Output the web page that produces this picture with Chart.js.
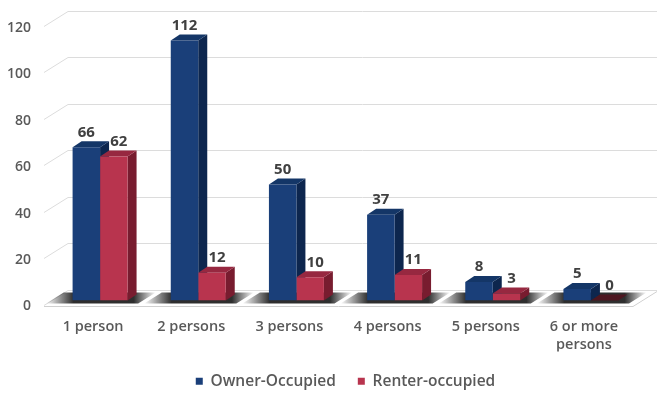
<!DOCTYPE html>
<html>
<head>
<meta charset="utf-8">
<script src="https://cdn.jsdelivr.net/npm/chart.js@4.4.1/dist/chart.umd.min.js"></script>
<style>
  html, body { margin: 0; padding: 0; background: #fff; }
  #wrap { width: 657px; height: 401px; position: relative; }
</style>
</head>
<body>
<div id="wrap"><canvas id="householdChart"></canvas></div>
<script>
// Household size by tenure
const categories = ['1 person', '2 persons', '3 persons', '4 persons', '5 persons', ['6 or more', 'persons']];
const ownerOccupied = [66, 112, 50, 37, 8, 5];
const renterOccupied = [62, 12, 10, 11, 3, 0];
const yTicks = [0, 20, 40, 60, 80, 100, 120];

const BLUE = { front: '#1a3f79', top: '#143667', side: '#0d264e' };
const RED = { front: '#b8344e', top: '#972840', side: '#781c2f' };

// oblique 3D offsets (pixels)
const BAR_DEPTH = { dx: 9, dy: -6 };
const FRONT_SHIFT = { dx: -7, dy: 4 };   // floor front edge relative to bar plane
const WALL_DEPTH = { dx: 24, dy: -15 };  // floor front edge to back wall

const FONT = '"Open Sans", "DejaVu Sans", sans-serif';

function drawFaces(ctx, bar, colors) {
    const { x, y, base, width } = bar.getProps(['x', 'y', 'base', 'width'], true);
    const l = x - width / 2, r = x + width / 2;
    const { dx, dy } = BAR_DEPTH;
    // right side
    ctx.fillStyle = colors.side;
    ctx.beginPath();
    ctx.moveTo(r, y);
    ctx.lineTo(r + dx, y + dy);
    ctx.lineTo(r + dx, base + dy);
    ctx.lineTo(r, base);
    ctx.closePath();
    ctx.fill();
    // top (a flat bar only shows a dark lid)
    ctx.fillStyle = base - y < 1 ? '#4d1620' : colors.top;
    ctx.beginPath();
    ctx.moveTo(l, y);
    ctx.lineTo(l + dx, y + dy);
    ctx.lineTo(r + dx, y + dy);
    ctx.lineTo(r, y);
    ctx.closePath();
    ctx.fill();
}

const walls3d = {
    id: 'walls3d',
    beforeDatasetsDraw(chart) {
        const { ctx, chartArea: a, scales: { x, y } } = chart;
        const fx = a.left + FRONT_SHIFT.dx;
        const fr = a.right + FRONT_SHIFT.dx;
        const f0 = y.getPixelForValue(0) + FRONT_SHIFT.dy;
        const slope = WALL_DEPTH.dx / -WALL_DEPTH.dy;

        ctx.save();
        // gridlines: diagonal on the side wall, horizontal on the back wall
        ctx.strokeStyle = '#dcdcdc';
        ctx.lineWidth = 1;
        yTicks.forEach(v => {
            const fy = Math.round(y.getPixelForValue(v) + FRONT_SHIFT.dy) + 0.5;
            const by = fy + WALL_DEPTH.dy;
            ctx.beginPath();
            ctx.moveTo(fx, fy);
            ctx.lineTo(fx + WALL_DEPTH.dx, by);
            ctx.lineTo(fr + WALL_DEPTH.dx, by);
            ctx.stroke();
        });
        // floor front edge
        ctx.strokeStyle = '#d0d0d0';
        ctx.beginPath();
        ctx.moveTo(fx, Math.round(f0) + 1.5);
        ctx.lineTo(fr, Math.round(f0) + 1.5);
        ctx.lineTo(fr + WALL_DEPTH.dx, Math.round(f0) + 1.5 + WALL_DEPTH.dy);
        ctx.stroke();

        // shadows on the floor under each category
        const catW = x.width / categories.length;
        categories.forEach((c, i) => {
            const cx = x.getPixelForValue(i) + FRONT_SHIFT.dx;
            const left = cx - catW / 2 + 2;
            const right = cx + catW / 2 - 4;
            const yF = f0 - 1, yB = f0 + WALL_DEPTH.dy + 3;
            const sh = (yF - yB) * slope;
            const g = ctx.createLinearGradient(left, 0, right + sh, 0);
            g.addColorStop(0, 'rgba(35,35,35,0)');
            g.addColorStop(0.25, 'rgba(35,35,35,0.95)');
            g.addColorStop(0.8, 'rgba(35,35,35,0.95)');
            g.addColorStop(1, 'rgba(35,35,35,0)');
            ctx.fillStyle = g;
            ctx.beginPath();
            ctx.moveTo(left, yF);
            ctx.lineTo(right, yF);
            ctx.lineTo(right + sh, yB);
            ctx.lineTo(left + sh, yB);
            ctx.closePath();
            ctx.fill();
        });

        // side and top faces of each bar, left bar first
        const owners = chart.getDatasetMeta(0).data;
        const renters = chart.getDatasetMeta(1).data;
        owners.forEach((bar, i) => {
            drawFaces(ctx, bar, BLUE);
            drawFaces(ctx, renters[i], RED);
        });
        ctx.restore();
    },
    afterDatasetsDraw(chart) {
        const { ctx } = chart;
        ctx.save();
        ctx.font = 'bold 15px ' + FONT;
        ctx.fillStyle = '#404040';
        ctx.textAlign = 'center';
        ctx.textBaseline = 'middle';
        [ownerOccupied, renterOccupied].forEach((vals, di) => {
            chart.getDatasetMeta(di).data.forEach((bar, i) => {
                ctx.fillText(String(vals[i]), bar.x + (di ? 5 : 0), bar.y - 15);
            });
        });
        ctx.restore();
    }
};

new Chart(document.getElementById('householdChart'), {
    type: 'bar',
    data: {
        labels: categories,
        datasets: [
            {
                label: 'Owner-Occupied',
                data: ownerOccupied,
                backgroundColor: BLUE.front,
                borderWidth: 0,
                categoryPercentage: 0.56,
                barPercentage: 1.0
            },
            {
                label: 'Renter-occupied',
                data: renterOccupied,
                backgroundColor: RED.front,
                borderWidth: 0,
                categoryPercentage: 0.56,
                barPercentage: 1.0
            }
        ]
    },
    options: {
        responsive: true,
        maintainAspectRatio: false,
        animation: false,
        layout: {
            padding: { top: 22, right: 17, bottom: 2, left: 0 }
        },
        plugins: {
            tooltip: { enabled: false },
            legend: {
                position: 'bottom',
                fullSize: false,
                labels: {
                    boxWidth: 7,
                    boxHeight: 7,
                    padding: 22,
                    color: '#595959',
                    font: { family: FONT, size: 15.5, weight: '600' }
                }
            }
        },
        scales: {
            y: {
                min: 0,
                max: 120,
                grid: { display: false, drawTicks: false },
                border: { display: false },
                ticks: {
                    stepSize: 20,
                    padding: 20,
                    labelOffset: 6,
                    color: '#595959',
                    font: { family: FONT, size: 14, weight: '600' }
                },
                afterFit(scale) {
                    scale.width = 51;
                    scale.paddingTop = 8;
                }
            },
            x: {
                grid: { display: false, drawTicks: false },
                border: { display: false },
                ticks: {
                    padding: 18,
                    labelOffset: -7,
                    maxRotation: 0,
                    autoSkip: false,
                    color: '#595959',
                    font: { family: FONT, size: 14.5, weight: '600' }
                },
                afterFit(scale) { scale.height = 51; }
            }
        }
    },
    plugins: [walls3d]
});
</script>
</body>
</html>
